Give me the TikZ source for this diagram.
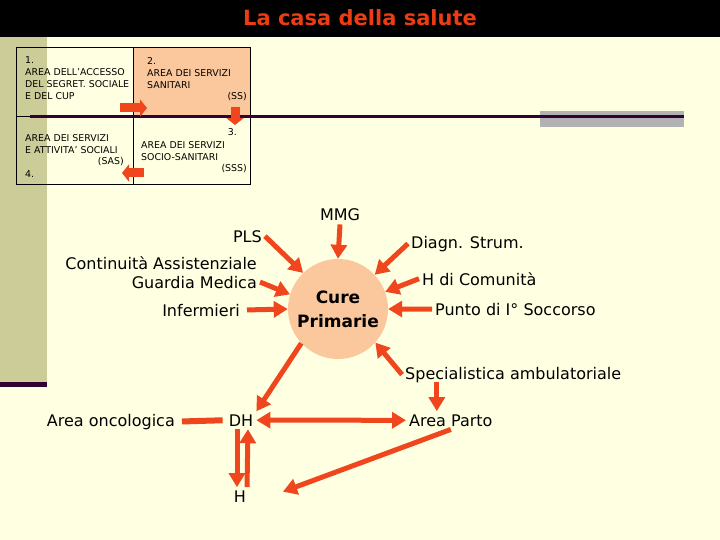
\documentclass[tikz,border=0pt]{standalone}
\usepackage{fontspec}
\setmainfont{DejaVu Sans}
\usetikzlibrary{arrows.meta}
\definecolor{bgcream}{RGB}{255,255,225}
\definecolor{stripolive}{RGB}{204,204,153}
\definecolor{darkplum}{RGB}{51,0,51}
\definecolor{peach}{RGB}{251,200,157}
\definecolor{arrred}{RGB}{240,70,30}
\definecolor{titlered}{RGB}{235,60,20}

\begin{document}
\begin{tikzpicture}[x=1pt,y=-1pt,
	lbl/.style={inner sep=3pt,font=\fontsize{16}{19}\selectfont},
	celltxt/.style={inner sep=0pt,align=left,font=\fontsize{9.4}{12}\selectfont},
	cell/.style={draw,line width=0.8pt,minimum width=117pt,inner sep=0pt,outer sep=0pt,anchor=north west},
	arr/.style={draw=arrred,line width=5pt,-{Triangle[length=14pt,width=16pt]}},
	blk/.style={draw=arrred,line width=9pt,-{Triangle[length=7pt,width=17pt]}}]

	\useasboundingbox (0,0) rectangle (720,540);
	\fill[bgcream] (0,0) rectangle (720,540);
	\fill[black] (0,0) rectangle (720,37);
	\fill[stripolive] (0,37) rectangle (47,382);
	\fill[darkplum] (0,382) rectangle (47,387);
	\fill[black!30] (540,111) rectangle (684,127);
	\node[text=titlered,font=\fontsize{21}{24}\selectfont\bfseries] (title) at (360,18) {La casa della salute};

	% the four areas
	\node[cell,minimum height=69pt] (c1) at (16,47) {};
	\node[cell,minimum height=69pt,fill=peach] (c2) at (133,47) {};
	\node[cell,minimum height=68pt] (c3) at (133,116) {};
	\node[cell,minimum height=68pt] (c4) at (16,116) {};
	\draw[darkplum,line width=3pt] (30,117) -- (684,117);

	\node[celltxt,anchor=north west] (t1) at (25,56) {1.\\AREA DELL’ACCESSO\\DEL SEGRET. SOCIALE\\E DEL CUP};
	\node[celltxt,anchor=north west] (t2) at (147,57) {2.\\AREA DEI SERVIZI\\SANITARI};
	\node[celltxt,anchor=east] (ss) at (247,97) {(SS)};
	\node[celltxt,anchor=east] (n3) at (237,132) {3.};
	\node[celltxt,anchor=north west] (t3) at (141,141) {AREA DEI SERVIZI\\SOCIO-SANITARI};
	\node[celltxt,anchor=east] (sss) at (247,169) {(SSS)};
	\node[celltxt,anchor=north west] (t4) at (25,134) {AREA DEI SERVIZI\\E ATTIVITA’ SOCIALI};
	\node[celltxt,anchor=east] (sas) at (124,162) {(SAS)};
	\node[celltxt,anchor=west] (n4) at (25,174) {4.};

	\draw[blk] ([xshift=-13pt,yshift=8pt]c1.south east) -- ([xshift=14pt,yshift=8pt]c2.south west);
	\draw[blk] ([xshift=-15pt,yshift=9pt]c2.south east) -- ([xshift=-15pt,yshift=-9pt]c3.north east);
	\draw[blk] ([xshift=11pt,yshift=11pt]c3.south west) -- ([xshift=-11pt,yshift=11pt]c4.south east);

	% cure primarie
	\node[circle,fill=peach,minimum size=100pt,inner sep=0pt,align=center,
		font=\fontsize{17}{24}\selectfont\bfseries] (cure) at (338,309) {Cure\\Primarie};

	\node[lbl,anchor=base] (mmg) at (340,221) {MMG};
	\node[lbl,anchor=base east] (pls) at (265,242) {PLS};
	\node[lbl,anchor=base east] (ca) at (260,269) {Continuità Assistenziale};
	\node[lbl,anchor=base east] (gm) at (260,288) {Guardia Medica};
	\node[lbl,anchor=base east] (inf) at (243,316) {Infermieri};
	\node[lbl,anchor=base west] (diag) at (408,248) {Diagn. Strum.};
	\node[lbl,anchor=base west] (hdc) at (419,285) {H di Comunità};
	\node[lbl,anchor=base west] (pun) at (432,315) {Punto di I° Soccorso};
	\node[lbl,anchor=base west] (spec) at (402,379) {Specialistica ambulatoriale};
	\node[lbl,anchor=base east] (onc) at (178,426) {Area oncologica};
	\node[lbl,anchor=base] (dh) at (241,426) {DH};
	\node[lbl,anchor=base west] (parto) at (406,426) {Area Parto};
	\node[lbl,anchor=base] (h) at (240,502) {H};

	\draw[arr] (mmg.south) -- (cure.north);
	\draw[arr] (pls.east) -- (cure.134);
	\draw[arr] (gm.east) -- (cure.163);
	\draw[arr,shorten <=4pt] (inf.east) -- (cure.west);
	\draw[arr] (diag.west) -- (cure.43);
	\draw[arr] (hdc.west) -- (cure.20);
	\draw[arr] (pun.west) -- (cure.east);
	\draw[arr] (spec.west) -- (cure.318);
	\draw[arr] (cure.223) -- (dh.30);
	\draw[draw=arrred,line width=6pt,shorten <=4pt,shorten >=3pt] (onc.east) -- (dh.west);
	\draw[arr,{Triangle[length=14pt,width=16pt]}-{Triangle[length=14pt,width=16pt]}] (dh.east) -- (parto.west);
	\draw[arr] ([xshift=-14pt,yshift=29pt]parto.north) -- ([xshift=-14pt]parto.north);
	\draw[arr,shorten >=36pt] (parto.south) -- ([yshift=-8pt]h.east);
	\draw[arr] ([xshift=-4pt]dh.south) -- ([xshift=-3pt]h.north);
	\draw[arr] ([xshift=7pt]h.north) -- ([xshift=7pt]dh.south);
\end{tikzpicture}
\end{document}
